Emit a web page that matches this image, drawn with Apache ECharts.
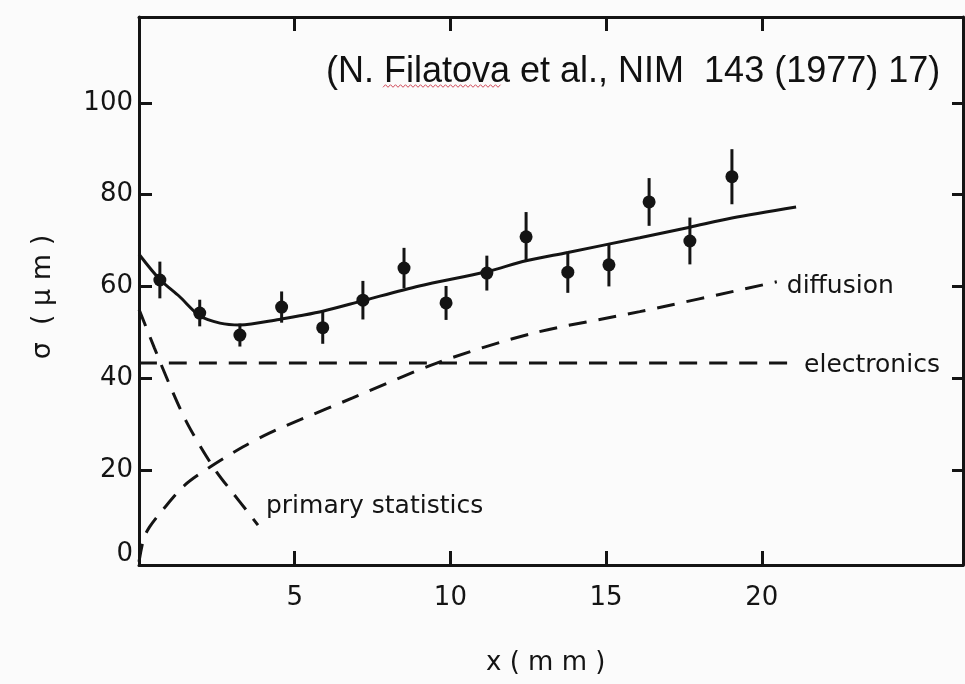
<!DOCTYPE html>
<html>
<head>
<meta charset="utf-8">
<script src="https://cdn.jsdelivr.net/npm/echarts@6/dist/echarts.min.js"></script>
<style>html,body{margin:0;padding:0;background:#fbfbfb;}#c{width:965px;height:684px;}</style>
</head>
<body>
<div id="c"></div>
<script>
// measured points (x in mm, sigma in µm)
const xVals    = [0.67, 1.95, 3.24, 4.58, 5.90, 7.19, 8.51, 9.86, 11.17, 12.43, 13.77, 15.09, 16.38, 17.69, 19.04];
const sigma    = [61.4, 54.2, 49.4, 55.5, 51.0, 57.0, 64.0, 56.4, 62.9, 70.8, 63.1, 64.7, 78.4, 69.9, 83.9];
const sigmaErr = [4.0, 2.9, 2.5, 3.4, 3.5, 4.2, 4.4, 3.7, 3.8, 5.4, 4.5, 4.7, 5.2, 5.1, 6.0];

// total fit curve
const totalX = [0, 0.67, 1.3, 1.95, 2.6, 3.24, 4.5, 5.16, 5.9, 7.19, 9.0, 11.17, 12.43, 13.77, 16.08, 17.69, 19.04, 21.1];
const totalY = [67, 61.5, 57.8, 53.6, 52.0, 51.6, 52.8, 53.6, 54.6, 56.9, 60.1, 63.2, 65.6, 67.4, 70.6, 72.9, 74.9, 77.3];

// components
const elecX = [0, 21.1];
const elecY = [43.3, 43.3];
const diffX = [0, 0.15, 0.34, 0.76, 1.47, 2.27, 3.33, 4.20, 5.16, 6.86, 9.56, 12.65, 16.08, 20.48];
const diffY = [0, 5.0, 7.6, 11.3, 16.7, 20.6, 25.0, 28.1, 30.9, 35.7, 43.3, 49.8, 54.5, 61.0];
const primX = [0, 0.5, 1.0, 1.5, 2.0, 2.5, 3.0, 3.5, 3.82];
const primY = [55, 46.5, 38.3, 30.8, 24.8, 19.5, 15.1, 10.8, 8];

// ticks
const xTicks = [5, 10, 15, 20];
const yTicks = [0, 20, 40, 60, 80, 100];

const ink = '#141414';
const font = 'DejaVu Sans';
const pair = (xs, ys) => xs.map((x, i) => [x, ys[i]]);

const chart = echarts.init(document.getElementById('c'), null, {renderer: 'canvas'});

const axisLine = {show: true, onZero: false, lineStyle: {color: ink, width: 3}};
const tickStyle = {lineStyle: {color: ink, width: 3}};

const dashLine = (name, xs, ys, label, offset) => ({
  name: name, type: 'line', data: pair(xs, ys), showSymbol: false, symbol: 'none',
  smooth: 0.3,
  lineStyle: {color: ink, width: 3, type: [18, 12]},
  endLabel: {show: true, formatter: label, color: ink, fontFamily: font, fontSize: 25, distance: 8, offset: offset},
  silent: true, z: 2
});

// decorative spell-check squiggle under "Filatova"
const squiggle = [];
for (let px = 383, k = 0; px <= 502; px += 2.5, k++) squiggle.push([px, 86 + (k % 2 ? -1.3 : 1.3)]);

chart.setOption({
  backgroundColor: '#fbfbfb',
  animation: false,
  grid: {left: 139, right: 2, top: 17, bottom: 119, containLabel: false},
  xAxis: [
    {type: 'value', min: 0, max: 26.46, position: 'bottom',
     axisLine: axisLine, splitLine: {show: false},
     axisTick: Object.assign({show: true, inside: true, length: 14, customValues: xTicks}, tickStyle),
     axisLabel: {show: true, customValues: xTicks, margin: 20, color: ink, fontFamily: font, fontSize: 26}},
    {type: 'value', min: 0, max: 26.46, position: 'top',
     axisLine: axisLine, splitLine: {show: false},
     axisTick: Object.assign({show: true, inside: true, length: 14, customValues: xTicks}, tickStyle),
     axisLabel: {show: false}}
  ],
  yAxis: [
    {type: 'value', min: -0.7, max: 118.7, position: 'left',
     axisLine: axisLine, splitLine: {show: false},
     axisTick: Object.assign({show: true, inside: true, length: 13, customValues: yTicks.slice(1)}, tickStyle),
     axisLabel: {show: true, customValues: yTicks, margin: 6, color: ink, fontFamily: font, fontSize: 26,
                 formatter: v => (v === 0 ? '{z|0}' : String(v)),
                 rich: {z: {fontFamily: font, fontSize: 26, color: ink, padding: [0, 0, 16, 0]}}}},
    {type: 'value', min: -0.7, max: 118.7, position: 'right',
     axisLine: axisLine, splitLine: {show: false},
     axisTick: Object.assign({show: true, inside: true, length: 11, customValues: yTicks.slice(1)}, tickStyle),
     axisLabel: {show: false}}
  ],
  series: [
    {name: 'total', type: 'line', data: pair(totalX, totalY), showSymbol: false, symbol: 'none',
     smooth: 0.3, lineStyle: {color: ink, width: 3}, silent: true, z: 3},
    dashLine('electronics', elecX, elecY, 'electronics', [0, 2]),
    dashLine('diffusion', diffX, diffY, 'diffusion', [2, 5]),
    dashLine('primary statistics', primX, primY, 'primary statistics', [0, -19]),
    {name: 'errors', type: 'custom', z: 4, silent: true,
     data: xVals.map((x, i) => [x, sigma[i] - sigmaErr[i], sigma[i] + sigmaErr[i]]),
     encode: {x: 0, y: [1, 2]},
     renderItem: function (params, api) {
       const a = api.coord([api.value(0), api.value(2)]);
       const b = api.coord([api.value(0), api.value(1)]);
       return {type: 'line', shape: {x1: a[0], y1: a[1], x2: b[0], y2: b[1]},
               style: {stroke: ink, lineWidth: 3}};
     }},
    {name: 'data', type: 'scatter', data: pair(xVals, sigma), symbol: 'circle', symbolSize: 13,
     itemStyle: {color: ink, opacity: 1}, silent: true, z: 5}
  ],
  graphic: [
    {type: 'text', left: 326, top: 54,
     style: {text: '(N. Filatova et al., NIM  143 (1977) 17)', fill: '#111', font: '36px "Liberation Sans"'}},
    {type: 'polyline', shape: {points: squiggle}, style: {stroke: '#d04a5a', lineWidth: 1, fill: null}, silent: true},
    {type: 'text', left: 486, top: 650,
     style: {text: 'x ( m m )', fill: ink, font: '26px "DejaVu Sans"'}},
    {type: 'text', x: 43, y: 297, rotation: Math.PI / 2,
     style: {text: 'σ  ( μ m )', fill: ink, font: '27px "DejaVu Sans"', align: 'center', verticalAlign: 'middle'}}
  ]
});
</script>
</body>
</html>
